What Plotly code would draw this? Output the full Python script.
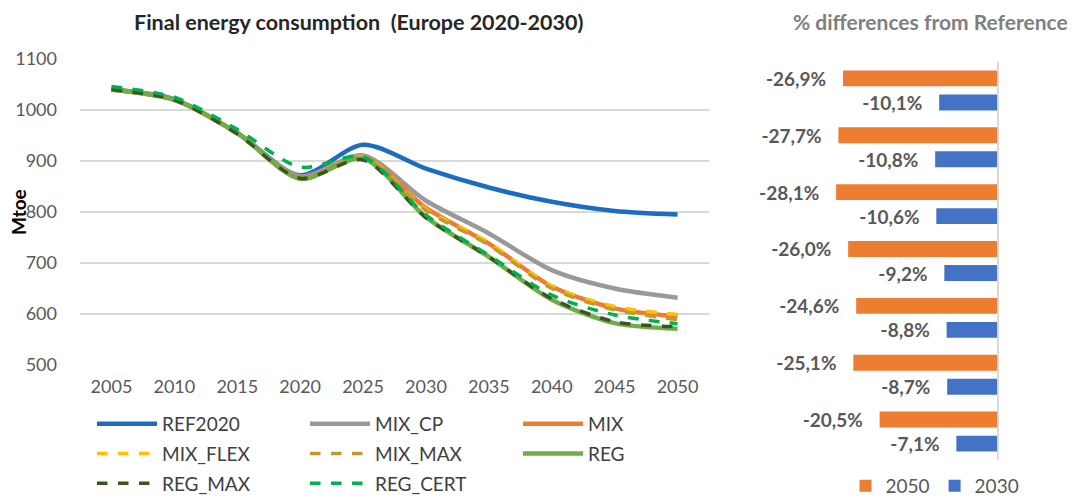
import plotly.graph_objects as go

# ---------------- data ----------------
years = [2005, 2010, 2015, 2020, 2025, 2030, 2035, 2040, 2045, 2050]
ref2020 = [1040, 1021, 955, 872, 932, 885, 848, 820, 802, 795]
mix_cp = [1040, 1020, 955, 870, 911, 822, 758, 686, 650, 632]
mix = [1040, 1020, 955, 866, 908, 808, 738, 654, 611, 595]
mix_flex = [1040, 1020, 955, 866, 908, 806, 740, 655, 615, 599]
mix_max = [1040, 1020, 955, 866, 906, 803, 735, 650, 608, 589]
reg = [1040, 1020, 955, 865, 905, 790, 712, 628, 582, 571]
reg_max = [1040, 1020, 953, 866, 902, 789, 712, 630, 585, 575]
reg_cert = [1046, 1025, 962, 888, 908, 794, 715, 637, 598, 581]

scenarios = ["REG_CERT", "REG_MAX", "REG", "MIX_MAX", "MIX_FLEX", "MIX", "MIX_CP"]
diff_2050 = [-26.9, -27.7, -28.1, -26.0, -24.6, -25.1, -20.5]
diff_2030 = [-10.1, -10.8, -10.6, -9.2, -8.8, -8.7, -7.1]

W, H = 1078, 497
FONT = "Lato, 'Open Sans', sans-serif"


def px_x(p):
    return p / W


def px_y(p):
    return 1 - p / H


series = [
    ("REF2020", ref2020, "#1C6DBF", "solid", 4.5, "legend"),
    ("MIX_CP", mix_cp, "#999999", "solid", 4.5, "legend2"),
    ("MIX", mix, "#ED7D31", "solid", 4.5, "legend3"),
    ("MIX_FLEX", mix_flex, "#FFC000", "dash", 3.5, "legend"),
    ("MIX_MAX", mix_max, "#C09A2E", "dash", 3.5, "legend2"),
    ("REG", reg, "#70AD47", "solid", 4.5, "legend3"),
    ("REG_MAX", reg_max, "#3A5524", "dash", 3.5, "legend"),
    ("REG_CERT", reg_cert, "#00B050", "dash", 3.5, "legend2"),
]

fig = go.Figure()
for name, vals, col, dash, w, lg in series:
    fig.add_trace(go.Scatter(
        x=years, y=vals, name=name, mode="lines",
        line=dict(color=col, width=w, dash=dash, shape="spline", smoothing=0.8),
        legend=lg, legendgroup=name, xaxis="x", yaxis="y",
    ))

PAD = "\u00a0\u00a0\u00a0"
lab50 = [f"{v:.1f}%".replace(".", ",") + PAD for v in diff_2050]
lab30 = [f"{v:.1f}%".replace(".", ",") + PAD for v in diff_2030]

for name, vals, labs, col in [("2050", diff_2050, lab50, "#ED7D31"),
                              ("2030", diff_2030, lab30, "#4472C4")]:
    fig.add_trace(go.Bar(
        y=scenarios, x=vals, orientation="h", name=name,
        marker=dict(color=col, line=dict(width=0)), text=labs,
        texttemplate="%{text}", textposition="outside",
        constraintext="none", cliponaxis=False,
        textfont=dict(family=FONT, size=19, color="#595959", weight="bold"),
        xaxis="x2", yaxis="y2", legend="legend4",
    ))

leg_common = dict(
    orientation="v", yanchor="top", xanchor="left",
    font=dict(family=FONT, size=19, color="#404040"),
    bgcolor="rgba(0,0,0,0)", tracegroupgap=2, itemwidth=60,
)

fig.update_layout(
    width=W, height=H,
    margin=dict(l=0, r=0, t=0, b=0, autoexpand=False),
    paper_bgcolor="white", plot_bgcolor="white",
    font=dict(family=FONT, size=18, color="#595959"),
    barmode="group", bargap=0.154, bargroupgap=0.34,
    xaxis=dict(
        domain=[px_x(80), px_x(709)], range=[2002.5, 2052.5],
        tickmode="array", tickvals=years, ticktext=[str(y) for y in years],
        showgrid=False, zeroline=False, showline=False, ticks="",
        ticklabelstandoff=9,
        tickfont=dict(family=FONT, size=18, color="#595959"),
        anchor="y",
    ),
    yaxis=dict(
        domain=[px_y(365), px_y(59)], range=[500, 1100], dtick=100,
        showgrid=True, gridcolor="#D9D9D9", gridwidth=1.5, zeroline=False,
        showline=False, ticks="", ticklabelstandoff=22,
        tickfont=dict(family=FONT, size=18, color="#595959"),
        anchor="x",
    ),
    xaxis2=dict(
        domain=[px_x(768), px_x(997)], range=[-40, 0], visible=False,
        anchor="y2",
    ),
    yaxis2=dict(
        domain=[px_y(460), px_y(62)], type="category", autorange="reversed",
        showticklabels=False, showgrid=False, zeroline=False,
        showline=True, linecolor="#D9D9D9", linewidth=2, side="right",
        ticks="", anchor="x2",
    ),
    legend=dict(x=px_x(92), y=px_y(405), **leg_common),
    legend2=dict(x=px_x(305), y=px_y(405), **leg_common),
    legend3=dict(x=px_x(518), y=px_y(405), **leg_common),
    legend4=dict(
        orientation="h", x=px_x(935), xanchor="center", y=px_y(486),
        yanchor="middle", font=dict(family=FONT, size=19, color="#595959"),
        bgcolor="rgba(0,0,0,0)", itemwidth=30,
    ),
    annotations=[
        dict(text="<b>Final energy consumption  (Europe 2020-2030)</b>",
             x=px_x(358), y=px_y(22), xref="paper", yref="paper",
             xanchor="center", yanchor="middle",
             showarrow=False, font=dict(family=FONT, size=21.5, color="#262626")),
        dict(text="<b>% differences from Reference</b>",
             x=px_x(930), y=px_y(22), xref="paper", yref="paper",
             xanchor="center", yanchor="middle",
             showarrow=False, font=dict(family=FONT, size=21, color="#7F7F7F")),
        dict(text="<b>Mtoe</b>", textangle=-90,
             x=px_x(18), y=px_y(212), xref="paper", yref="paper",
             xanchor="center", yanchor="middle",
             showarrow=False, font=dict(family=FONT, size=19, color="#000000")),
    ],
)

fig.write_html("out.html", config={"displayModeBar": False},
               post_script="document.body.style.margin='0';document.body.style.overflow='hidden';")
